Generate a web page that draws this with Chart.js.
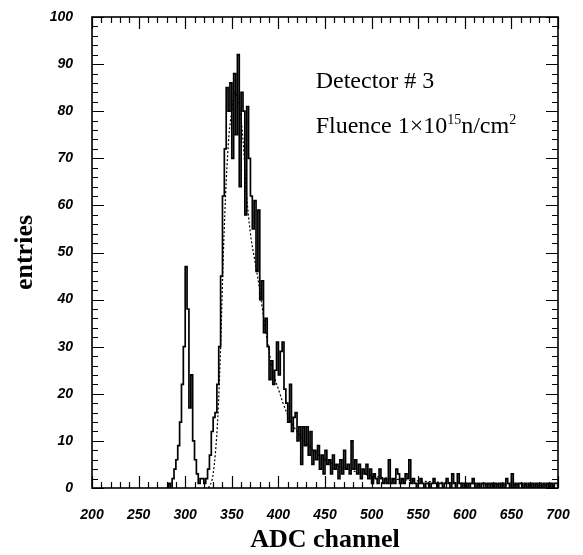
<!DOCTYPE html>
<html>
<head>
<meta charset="utf-8">
<script src="https://cdn.jsdelivr.net/npm/chart.js@4.4.1/dist/chart.umd.min.js"></script>
<style>
  html, body { margin: 0; padding: 0; background: #fff; }
  #box { width: 583px; height: 555px; }
</style>
</head>
<body>
<div id="box"><canvas id="grafico" width="583" height="555"></canvas></div>
<script>
// histogram: 2-channel bins starting at channel 280
var inicioCanal = 280;
var larguraBin = 2;
var contagens = [
    0, 0, 1, 0, 2, 4, 6, 9, 14, 22,
    30, 47, 38, 17, 24, 10, 6, 3, 1, 2,
    2, 1, 2, 4, 7, 12, 15, 16, 22, 30,
    45, 62, 72, 85, 80, 86, 70, 88, 75, 92,
    64, 84, 80, 58, 81, 70, 62, 55, 61, 46,
    59, 40, 44, 33, 36, 30, 23, 27, 22, 25,
    31, 24, 29, 31, 21, 18, 14, 22, 12, 15,
    16, 10, 13, 5, 13, 9, 13, 7, 12, 5,
    8, 6, 9, 4, 7, 3, 8, 5, 6, 3,
    7, 4, 5, 2, 6, 3, 8, 4, 5, 3,
    10, 4, 6, 3, 5, 2, 4, 3, 5, 2,
    4, 1, 3, 2, 1, 4, 2, 1, 2, 1,
    6, 1, 2, 1, 4, 3, 1, 2, 1, 3,
    2, 6, 1, 2, 1, 0, 1, 2, 1, 0,
    1, 1, 0, 1, 2, 1, 0, 1, 1, 0,
    1, 2, 1, 0, 3, 1, 0, 3, 1, 0,
    1, 0, 1, 0, 1, 2, 1, 0, 1, 0,
    1, 1, 0, 1, 0, 1, 0, 1, 0, 1,
    0, 1, 0, 2, 1, 0, 3, 0, 1, 0,
    1, 1, 0, 1, 0, 1, 0, 1, 0, 1,
    0, 1, 0, 1, 0, 1, 0, 1, 0, 1
];

// dotted fit curve
var canaisAjuste = [325, 330, 335, 338, 341, 344, 347, 350, 353, 356, 359, 362, 366, 370, 375, 380, 385, 390, 395, 400, 405, 410, 415, 420, 430, 440, 450, 460, 470, 480, 500, 520, 550, 600, 650, 700];
var valoresAjuste = [0, 3, 15, 30, 50, 65, 75, 80, 84, 83, 80, 74, 62, 54, 48, 42, 35, 29, 24, 21, 18, 15.5, 13.5, 12, 9.5, 7.5, 6, 5, 4.2, 3.6, 2.6, 2, 1.5, 1, 0.7, 0.5];

var ticksX = [200, 250, 300, 350, 400, 450, 500, 550, 600, 650, 700];
var ticksY = [0, 10, 20, 30, 40, 50, 60, 70, 80, 90, 100];

function montarHistograma() {
    var pontos = [];
    for (var i = 0; i < contagens.length; i++) {
        pontos.push({ x: inicioCanal + i * larguraBin, y: contagens[i] });
    }
    pontos.push({ x: inicioCanal + contagens.length * larguraBin, y: contagens[contagens.length - 1] });
    return pontos;
}

function montarAjuste() {
    var pontos = [];
    for (var i = 0; i < canaisAjuste.length; i++) {
        pontos.push({ x: canaisAjuste[i], y: valoresAjuste[i] });
    }
    return pontos;
}

// frame with inward ticks on all four sides, plus the text labels
var molduraPlugin = {
    id: "moldura",
    afterDatasetsDraw: function (chart) {
        var ctx = chart.ctx;
        var a = chart.chartArea;
        var sx = chart.scales.x;
        var sy = chart.scales.y;
        ctx.save();
        ctx.strokeStyle = "#000";
        ctx.lineWidth = 1.2;
        ctx.beginPath();
        for (var v = 200; v <= 700; v += 10) {
            var px = Math.round(sx.getPixelForValue(v)) + 0.5;
            var len = (v % 50 == 0) ? 12 : 6;
            ctx.moveTo(px, a.bottom); ctx.lineTo(px, a.bottom - len);
            ctx.moveTo(px, a.top); ctx.lineTo(px, a.top + len);
        }
        for (var w = 0; w <= 100; w += 2) {
            var py = Math.round(sy.getPixelForValue(w)) + 0.5;
            var len2 = (w % 10 == 0) ? 12 : 6;
            ctx.moveTo(a.left, py); ctx.lineTo(a.left + len2, py);
            ctx.moveTo(a.right, py); ctx.lineTo(a.right - len2, py);
        }
        ctx.stroke();
        ctx.lineWidth = 1.6;
        ctx.strokeRect(a.left, a.top, a.right - a.left, a.bottom - a.top);

        ctx.fillStyle = "#000";
        ctx.textBaseline = "alphabetic";
        ctx.textAlign = "left";
        var tx = sx.getPixelForValue(440);
        ctx.font = "24px 'Liberation Serif'";
        ctx.fillText("Detector # 3", tx, sy.getPixelForValue(85));

        var by = sy.getPixelForValue(75.4);
        var t1 = "Fluence 1\u00d710";
        ctx.fillText(t1, tx, by);
        var cx = tx + ctx.measureText(t1).width;
        ctx.font = "14px 'Liberation Serif'";
        ctx.fillText("15", cx, by - 9);
        cx += ctx.measureText("15").width;
        ctx.font = "24px 'Liberation Serif'";
        ctx.fillText("n/cm", cx, by);
        cx += ctx.measureText("n/cm").width;
        ctx.font = "14px 'Liberation Serif'";
        ctx.fillText("2", cx, by - 9);
        ctx.restore();
    }
};

function criarGrafico() {
    var ctx = document.getElementById("grafico").getContext("2d");
    var fonteTick = { family: "'Liberation Sans'", size: 14, style: "italic", weight: "bold" };
    // invisible tick marks only used to push the labels away from the frame
    var gradeInvisivel = { display: true, drawOnChartArea: false, drawTicks: true, tickLength: 17, color: "rgba(0,0,0,0)" };

    new Chart(ctx, {
        type: "line",
        data: {
            datasets: [{
                data: montarHistograma(),
                stepped: "after",
                borderColor: "#000",
                borderWidth: 1.7,
                pointRadius: 0,
                fill: false
            }, {
                data: montarAjuste(),
                borderColor: "#000",
                borderWidth: 1.2,
                borderDash: [2, 2],
                cubicInterpolationMode: "monotone",
                pointRadius: 0,
                fill: false
            }]
        },
        options: {
            responsive: false,
            animation: false,
            layout: { padding: { top: 17, right: 25, left: 0, bottom: 0 } },
            plugins: { legend: { display: false }, tooltip: { enabled: false } },
            scales: {
                x: {
                    type: "linear",
                    min: 200,
                    max: 700,
                    afterBuildTicks: function (s) { s.ticks = ticksX.map(function (v) { return { value: v }; }); },
                    afterFit: function (s) { s.height = 67; },
                    grid: gradeInvisivel,
                    border: { display: false },
                    ticks: { font: fonteTick, color: "#000", padding: 2, maxRotation: 0, autoSkip: false },
                    title: {
                        display: true,
                        text: "ADC channel",
                        color: "#000",
                        font: { family: "'Liberation Serif'", size: 26, weight: "bold", lineHeight: 1 },
                        padding: { top: 0, bottom: 2 }
                    }
                },
                y: {
                    min: 0,
                    max: 100,
                    afterBuildTicks: function (s) { s.ticks = ticksY.map(function (v) { return { value: v }; }); },
                    afterFit: function (s) { s.width = 92; },
                    grid: gradeInvisivel,
                    border: { display: false },
                    ticks: { font: fonteTick, color: "#000", padding: 2 },
                    title: {
                        display: true,
                        text: "entries",
                        color: "#000",
                        font: { family: "'Liberation Serif'", size: 26, weight: "bold", lineHeight: 1 },
                        padding: { top: 12, bottom: 0 }
                    }
                }
            }
        },
        plugins: [molduraPlugin]
    });
}

criarGrafico();
</script>
</body>
</html>
